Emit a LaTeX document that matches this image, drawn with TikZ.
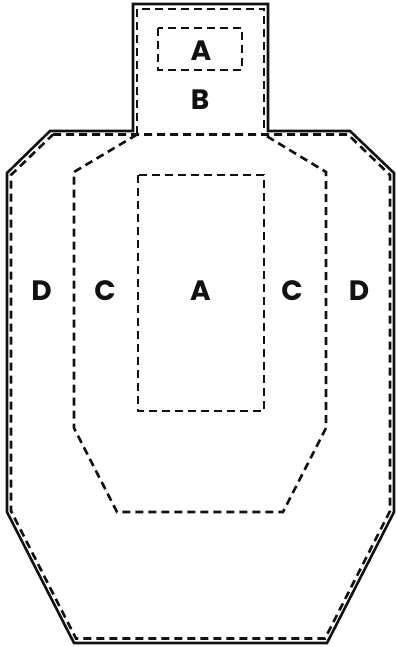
\documentclass[tikz,border=0pt]{standalone}
\usepackage{fontspec}
\setmainfont{Poppins}
\usepackage{tikz}
\usetikzlibrary{positioning}
\definecolor{TargetInk}{HTML}{111111}

\tikzset{
  edgeline/.style={TargetInk, line width=2.6pt, line join=miter},
  zoneline/.style={TargetInk, line width=2.6pt, dash pattern=on 8pt off 5pt},
  zonelabel/.style={font=\fontsize{28}{28}\selectfont\bfseries, text=TargetInk, inner sep=0pt}
}

\begin{document}
\begin{tikzpicture}[x=1pt, y=-1pt]

  \useasboundingbox (0,0) rectangle (396,647);

  %% Row y-coordinates (counting down)
  \def\yTop{4}       % top of head
  \def\yNeck{131}    % shoulder line
  \def\ySh{173}      % end of shoulder slope
  \def\yHip{512}     % start of lower slope
  \def\yBot{643}     % bottom edge
  \def\yMid{291}     % body letters

  %% Outer edge of the target
  \draw[edgeline] (133,\yNeck) -- (133,\yTop) -- (268,\yTop) -- (268,\yNeck)
    -- (350,\yNeck) -- (394,\ySh) -- (394,\yHip) -- (327,\yBot)
    -- (74,\yBot) -- (7,\yHip) -- (7,\ySh) -- (50,\yNeck) -- cycle;

  %% D zone (body) and B zone (head)
  \draw[zoneline] (53,134.5) -- (348,134.5) -- (390,175) -- (390,511)
    -- (325,638.5) -- (76,638.5) -- (11,511) -- (11,175) -- cycle;
  \draw[zoneline] (137,134.5) -- (137,9) -- (264,9) -- (264,134.5);

  %% C zone
  \draw[zoneline] (137,134.5) -- (74,172) -- (74,428) -- (117,512)
    -- (283,512) -- (326,428) -- (326,172) -- (264,134.5);

  %% A zones
  \draw[zoneline] (138,175) rectangle (264,411);
  \draw[zoneline] (158,28) rectangle (242,70);

  %% Labels
  \node[zonelabel] (headA) at (201,50.5) {A};
  \node[zonelabel] (headB) at (200,100)  {B};
  \foreach \cx/\lbl/\nm in {41.5/D/leftD, 105/C/leftC, 200.5/A/bodyA,
                            292/C/rightC, 359/D/rightD}{
    \node[zonelabel] (\nm) at (\cx,\yMid) {\lbl};
  }

\end{tikzpicture}
\end{document}
